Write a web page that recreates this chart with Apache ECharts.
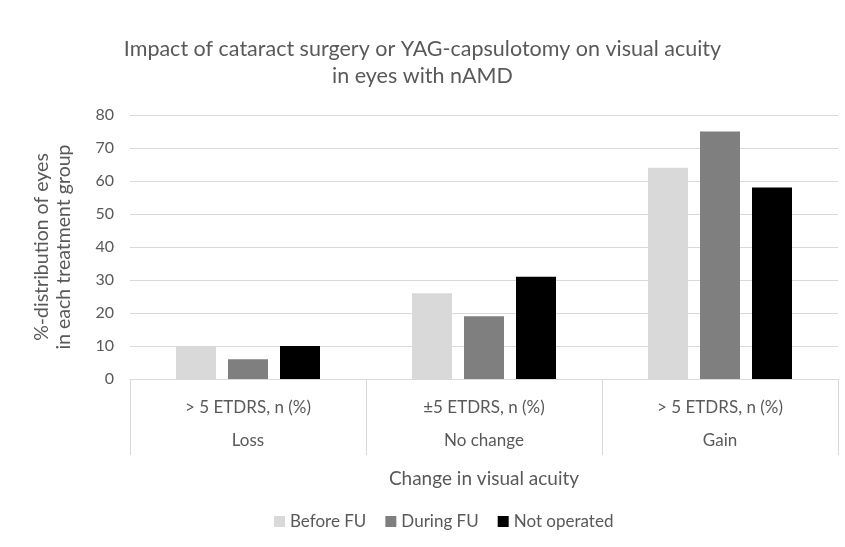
<!DOCTYPE html>
<html><head><meta charset="utf-8">
<script src="https://cdn.jsdelivr.net/npm/echarts@6/dist/echarts.min.js"></script>
<style>html,body{margin:0;padding:0;background:#fff}#c{width:845px;height:547px}</style>
</head><body><div id="c"></div>
<script>
const subLabels = ['> 5 ETDRS, n (%)', '±5 ETDRS, n (%)', '> 5 ETDRS, n (%)'];
const groups = ['Loss', 'No change', 'Gain'];
const seriesNames = ['Before FU', 'During FU', 'Not operated'];
const beforeFU = [10, 26, 64];
const duringFU = [6, 19, 75];
const notOperated = [10, 31, 58];
const yTicks = [0, 10, 20, 30, 40, 50, 60, 70, 80];

const colors = ['#d9d9d9', '#7f7f7f', '#000000'];
const txt = '#595959';
const font = 'Lato';
const chart = echarts.init(document.getElementById('c'), null, {renderer: 'canvas'});
const values = [beforeFU, duringFU, notOperated];
chart.setOption({
  animation: false,
  textStyle: {fontFamily: font, color: txt},
  title: {
    text: 'Impact of cataract surgery or YAG-capsulotomy on visual acuity\nin eyes with nAMD',
    left: 'center', top: 31,
    textStyle: {fontFamily: font, fontSize: 21.5, fontWeight: 'normal', color: txt, lineHeight: 27}
  },
  legend: {
    bottom: 12, left: 269,
    itemWidth: 11, itemHeight: 11, itemGap: 19,
    icon: 'rect',
    textStyle: {fontFamily: font, fontSize: 17, color: txt},
    data: seriesNames
  },
  grid: {left: 130, right: 7, top: 115, bottom: 168},
  xAxis: {
    type: 'category',
    data: subLabels.map((s, i) => s + '|' + groups[i]),
    boundaryGap: true,
    axisLine: {lineStyle: {color: '#d9d9d9', width: 1}},
    axisTick: {show: true, length: 76, lineStyle: {color: '#d9d9d9'}},
    axisLabel: {
      margin: 12, interval: 0,
      formatter: v => { const p = v.split('|'); return '{a|' + p[0] + '}\n{b|' + p[1] + '}'; },
      rich: {
        a: {fontFamily: font, fontSize: 17, color: txt, lineHeight: 33, height: 33},
        b: {fontFamily: font, fontSize: 17, color: txt, lineHeight: 33, height: 33}
      }
    },
    name: 'Change in visual acuity',
    nameLocation: 'middle', nameGap: 90,
    nameTextStyle: {fontFamily: font, fontSize: 19, color: txt}
  },
  yAxis: {
    type: 'value', min: yTicks[0], max: yTicks[yTicks.length - 1], interval: 10,
    axisLine: {show: false}, axisTick: {show: false},
    splitLine: {lineStyle: {color: '#d9d9d9', width: 1}},
    axisLabel: {fontFamily: font, fontSize: 16, color: txt, margin: 16},
    name: '%-distribution of eyes\nin each treatment group',
    nameLocation: 'middle', nameRotate: 90, nameGap: 55,
    nameTextStyle: {fontFamily: font, fontSize: 19.5, color: txt, lineHeight: 22}
  },
  series: seriesNames.map((n, i) => ({
    name: n, type: 'bar', data: values[i],
    barWidth: 40, barGap: '30%',
    itemStyle: {color: colors[i]}
  }))
});
</script></body></html>
